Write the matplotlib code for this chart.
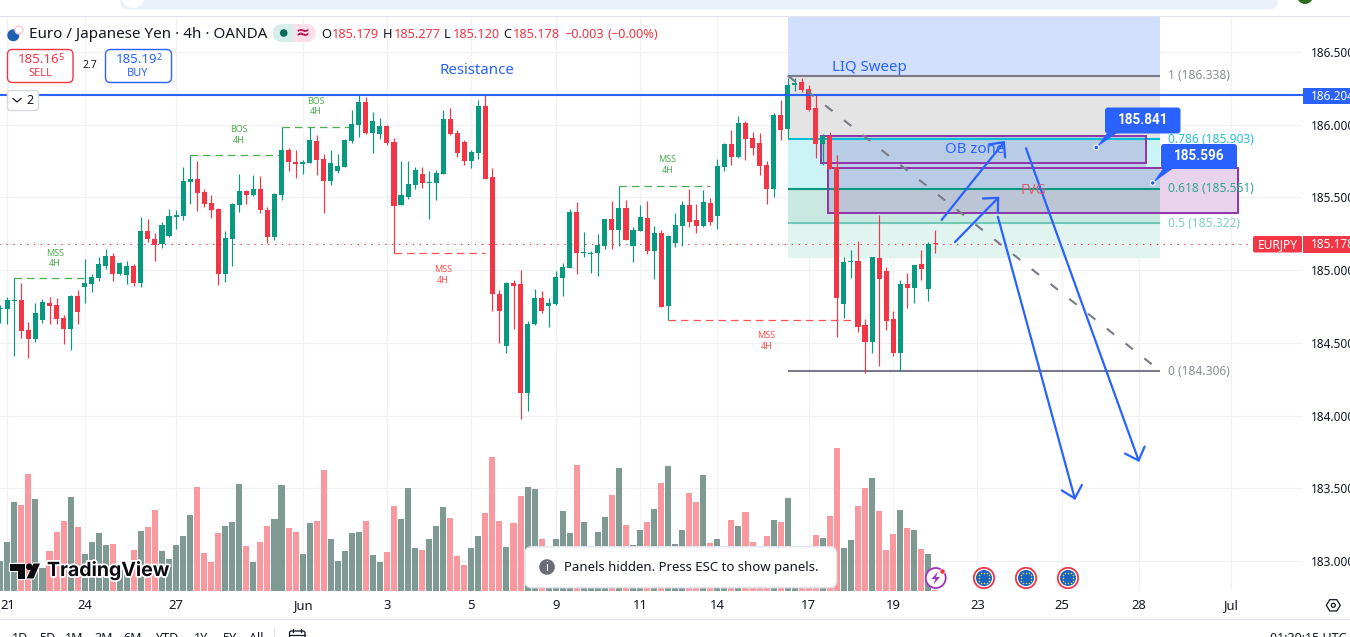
import matplotlib
matplotlib.use("Agg")
import matplotlib.pyplot as plt
import matplotlib.patheffects as pe
from matplotlib.patches import Rectangle, Circle, FancyBboxPatch, Polygon
import numpy as np

plt.rcParams['font.family'] = ['Noto Sans', 'DejaVu Sans']

# EUR/JPY 4h candles
opens = [184.732,184.735,184.787,184.794,184.588,184.528,184.657,184.771,184.757,184.670,
         184.597,184.819,184.886,184.906,184.948,185.030,185.097,184.975,184.968,185.028,
         184.913,185.269,185.214,185.182,185.237,185.367,185.374,185.608,185.627,185.537,
         185.462,185.418,184.975,185.214,185.448,185.544,185.517,185.558,185.413,185.230,
         185.517,185.826,185.737,185.732,185.737,185.888,185.764,185.613,185.682,185.709,
         185.888,185.998,186.156,185.943,185.936,185.991,185.881,185.448,185.503,185.585,
         185.661,185.599,185.599,185.661,186.039,185.942,185.881,185.750,185.807,186.128,
         185.640,184.835,184.477,184.911,184.904,184.154,184.629,184.807,184.752,184.766,
         184.945,185.014,185.399,185.117,185.110,185.117,185.165,185.351,185.275,185.426,
         185.165,185.268,185.358,185.131,185.255,184.752,185.186,185.303,185.447,185.344,
         185.303,185.461,185.371,185.709,185.867,185.777,186.011,185.908,185.874,185.722,
         185.557,186.066,185.968,186.275,186.294,186.246,186.115,185.867,185.922,185.707,
         184.767,185.055,185.062,184.622,184.505,185.083,184.994,184.663,184.429,184.904,
         184.877,185.042,184.870,185.179]
highs = [184.760,184.812,184.943,184.909,184.643,184.771,184.801,184.812,184.808,184.689,
         184.826,184.863,185.074,184.973,185.088,185.143,185.115,185.053,185.060,185.039,
         185.363,185.351,185.255,185.328,185.418,185.413,185.709,185.789,185.748,185.558,
         185.514,185.425,185.267,185.459,185.661,185.551,185.654,185.647,185.436,185.528,
         185.982,185.840,185.826,185.757,185.982,185.929,185.799,185.826,185.799,185.902,
         186.101,186.204,186.191,186.088,186.046,185.998,185.909,185.750,185.750,185.709,
         185.709,185.682,185.689,186.101,186.114,185.963,185.894,185.825,186.169,186.204,
         185.702,184.862,184.917,184.931,185.000,184.649,184.869,184.856,184.807,184.993,
         185.048,185.420,185.468,185.261,185.131,185.248,185.351,185.475,185.576,185.482,
         185.296,185.447,185.475,185.303,185.275,185.241,185.392,185.475,185.557,185.454,
         185.550,185.495,185.764,185.874,185.963,186.059,186.025,185.949,185.942,185.750,
         186.080,186.169,186.319,186.319,186.321,186.273,186.204,185.936,185.950,185.791,
         185.090,185.138,185.200,184.663,185.090,185.379,185.021,184.718,184.932,184.980,
         185.035,185.138,185.193,185.277]
lows = [184.634,184.629,184.411,184.533,184.397,184.505,184.638,184.629,184.629,184.494,
        184.452,184.629,184.776,184.851,184.927,185.010,184.927,184.968,184.906,184.893,
        184.886,185.195,185.065,185.154,185.227,185.280,185.345,185.455,185.409,185.436,
        185.361,184.897,184.920,185.028,185.402,185.455,185.510,185.395,185.189,185.207,
        185.482,185.682,185.634,185.661,185.737,185.654,185.395,185.585,185.666,185.709,
        185.872,185.916,185.936,185.806,185.902,185.861,185.115,185.448,185.489,185.558,
        185.565,185.352,185.482,185.661,185.929,185.777,185.722,185.702,185.764,185.626,
        184.718,184.498,184.429,184.594,183.975,184.030,184.622,184.704,184.608,184.759,
        184.821,185.014,184.972,185.089,184.979,184.959,185.144,185.144,185.165,185.206,
        185.055,185.268,185.110,184.938,184.745,184.656,185.158,185.165,185.296,185.255,
        185.296,185.310,185.282,185.681,185.722,185.770,185.757,185.791,185.653,185.454,
        185.502,185.894,185.906,186.234,186.225,186.094,185.771,185.725,185.695,184.540,
        184.670,184.945,184.574,184.292,184.429,184.340,184.588,184.409,184.306,184.739,
        184.773,184.932,184.787,185.120]
closes = [184.741,184.794,184.796,184.583,184.528,184.702,184.780,184.753,184.666,184.597,
          184.819,184.714,184.909,184.950,185.042,185.097,184.975,185.046,185.028,184.913,
          185.269,185.216,185.175,185.310,185.372,185.379,185.613,185.624,185.533,185.457,
          185.413,184.975,185.221,185.455,185.544,185.517,185.558,185.413,185.230,185.523,
          185.826,185.746,185.732,185.746,185.895,185.757,185.613,185.737,185.716,185.895,
          186.005,186.156,185.941,186.026,185.991,185.872,185.441,185.517,185.592,185.689,
          185.599,185.608,185.668,186.039,185.936,185.807,185.752,185.812,186.128,185.626,
          184.835,184.718,184.911,184.890,184.154,184.629,184.807,184.718,184.773,184.952,
          185.021,185.399,185.117,185.126,185.119,185.172,185.351,185.275,185.426,185.206,
          185.275,185.365,185.131,185.255,184.745,185.234,185.310,185.447,185.330,185.303,
          185.468,185.330,185.715,185.867,185.777,186.011,185.901,185.839,185.715,185.557,
          186.066,185.963,186.273,186.284,186.239,186.101,185.867,185.922,185.695,184.808,
          185.055,185.065,184.608,184.505,185.090,184.939,184.650,184.429,184.904,184.877,
          185.035,185.007,185.179,185.178]
volumes = [90,147,267,258,351,276,68,120,177,210,282,192,111,147,174,138,141,63,53,123,
           180,192,243,120,96,138,165,228,312,114,87,174,195,207,321,135,87,147,195,216,
           318,189,177,111,204,210,363,156,90,120,174,177,210,108,87,117,255,216,309,129,
           123,156,195,252,219,105,78,129,165,234,402,210,132,204,285,312,306,156,123,156,
           240,174,378,207,113,177,222,288,369,198,138,183,207,246,324,375,141,183,294,267,
           348,144,156,123,213,195,237,147,123,165,213,207,279,118,113,123,168,159,225,429,
           129,153,255,309,339,240,123,171,243,189,183,126,111,3]

# Date axis
date_bars = [1, 12, 25, 43, 55, 67, 79, 91, 102, 115, 127, 139, 151, 162, 175]
date_labels = ['21', '24', '27', 'Jun', '3', '5', '9', '11', '14', '17', '19', '23', '25', '28', 'Jul']
price_ticks = [183.0, 183.5, 184.0, 184.5, 185.0, 185.5, 186.0, 186.5]

# Fibonacci retracement drawn between two bars
fib_start, fib_end = 112, 165
fib_levels = [1, 0.786, 0.618, 0.5, 0]
fib_prices = [186.338, 185.903, 185.561, 185.322, 184.306]
fib_colors = ['#787B86', '#00BCD4', '#089981', '#73C9B7', '#787B86']
fib_text = ['#8A8D96', '#22C3D8', '#2CA58F', '#7FD0BE', '#8A8D96']
fib_floor = 185.083

resistance = 186.204
last_close = closes[-1]

# Market-structure breaks: first bar, last bar, price, colour
structure = [(27, 40, 185.789, '#4CAF50'), (40, 50, 185.982, '#4CAF50'),
             (2, 12, 184.943, '#4CAF50'), (88, 101, 185.576, '#4CAF50'),
             (56, 69, 185.115, '#FF5252'), (95, 122, 184.656, '#FF5252')]
structure_labels = [('BOS', 238.7, 128.5, '#4CAF50'), ('BOS', 315.7, 100, '#4CAF50'),
                    ('MSS', 55, 252, '#4CAF50'), ('MSS', 667.3, 158.7, '#4CAF50'),
                    ('MSS', 442.7, 268.5, '#FF5252'), ('MSS', 766.3, 334.7, '#FF5252')]

# Projected path arrows: tail bar, tail price, tip bar, tip price
arrows = [(133.9, 185.345, 142.9, 185.888), (135.8, 185.193, 142.1, 185.505),
          (141.9, 185.367, 152.9, 183.419), (145.9, 185.838, 162.0, 183.680)]

UP = '#089981'
DOWN = '#F23645'
VOL_UP = '#7F9A93'
VOL_DOWN = '#F9989F'
BLUE = '#2962FF'
PURPLE = '#8E35A8'
INK = '#131722'
GRID = '#F0F1F4'
RULE = '#E0E3EB'

W, H = 1350, 637
fig = plt.figure(figsize=(W / 100, H / 100), dpi=100, facecolor='white')
ax = fig.add_axes([0, (H - 591) / H, 1302 / W, (591 - 16) / H], zorder=1)
ax.set_xlim(-0.043, 185.16)
ax.set_ylim(182.793, 186.7476)
ax.patch.set_visible(False)
for s in ax.spines.values():
    s.set_visible(False)
ax.set_axisbelow(True)
ax.grid(True, color=GRID, lw=0.9)
ax.set_xticks(date_bars, date_labels)
ax.set_yticks(price_ticks, [f'{p:.3f}' for p in price_ticks])

bars = np.arange(len(opens))
o, h, l, c = map(np.array, (opens, highs, lows, closes))
rising = c >= o
colors = np.where(rising, UP, DOWN)

# Fibonacci bands and the sweep block above them
span = fib_end - fib_start
ax.add_patch(Rectangle((fib_start, fib_prices[0]), span, 187.0 - fib_prices[0], fc='#D2DFFD', ec='none', zorder=1))
band_fill = ['#E4E4E4', '#CCF3F5', '#C9E8E0', '#E1F4F0']
band_edges = fib_prices[:4] + [fib_floor]
for k, fill in enumerate(band_fill):
    ax.add_patch(Rectangle((fib_start, band_edges[k + 1]), span, band_edges[k] - band_edges[k + 1],
                           fc=fill, ec='none', zorder=1.1))

# Order block and fair value gap
ob_left, ob_right, ob_top, ob_bottom = 116.8, 163.0, 185.922, 185.737
fvg_left, fvg_right, fvg_top, fvg_bottom = 117.8, 176.0, 185.704, 185.393
ax.add_patch(Rectangle((fib_end, fvg_bottom), fvg_right - fib_end, fvg_top - fvg_bottom, fc='#E8D2EC', ec='none', zorder=1.2))
ax.add_patch(Rectangle((fvg_left, 185.561), fib_end - fvg_left, fvg_top - 185.561, fc='#B9CCE6', ec='none', zorder=1.2))
ax.add_patch(Rectangle((fvg_left, fvg_bottom), fib_end - fvg_left, 185.561 - fvg_bottom, fc='#BBC5D6', ec='none', zorder=1.2))
ax.add_patch(Rectangle((ob_left, ob_bottom), ob_right - ob_left, ob_top - ob_bottom, fc='#B9CCE6', ec='none', zorder=1.2))
ax.add_patch(Rectangle((fvg_left, ob_bottom - 0.04), ob_right - fvg_left, 0.04, fc='#BDD0E8', ec='none', zorder=1.2))

for price, col in zip(fib_prices, fib_colors):
    ax.hlines(price, fib_start, fib_end, color=col, lw=1.5, zorder=1.6)
ax.hlines(last_close, -1, 178.2, color=DOWN, lw=0.8, linestyles=[(0, (1.2, 5))], zorder=1.7)

for left, right, top, bottom in ((ob_left, ob_right, ob_top, ob_bottom), (fvg_left, fvg_right, fvg_top, fvg_bottom)):
    ax.add_patch(Rectangle((left, bottom), right - left, top - bottom, fc='none', ec=PURPLE, lw=1.4, zorder=2))

for b0, b1, price, col in structure:
    ax.hlines(price, b0, b1, color=col, lw=0.9, linestyles=[(0, (6, 4))], zorder=2.2)

# Candles
ax.vlines(bars, l, h, colors=colors, lw=0.85, zorder=3)
ax.bar(bars, np.maximum(np.abs(c - o), 0.009), bottom=np.minimum(o, c), width=0.72, color=colors, lw=0, zorder=3.1)

# Drawing tools above the candles
ax.hlines(resistance, -1, 186, color=BLUE, lw=1.5, zorder=4, clip_on=False)
ax.plot([fib_start, fib_end], [fib_prices[0], fib_prices[-1]], color='#787B86', lw=1.5,
        linestyle=(0, (4.5, 7)), zorder=4)
for x0, y0, x1, y1 in arrows:
    ax.annotate('', xy=(x1, y1), xytext=(x0, y0), zorder=5,
                arrowprops=dict(arrowstyle='->,head_length=8,head_width=7.5', mutation_scale=1,
                                color=BLUE, lw=1.6, shrinkA=0, shrinkB=0))

# Volume pane shares the date axis
vol = ax.twinx()
vol.set_ylim(0, 575 * 3)
vol.patch.set_visible(False)
vol.axis('off')
vol.set_zorder(2)
vol.bar(bars, volumes, width=0.86, color=np.where(rising, VOL_UP, VOL_DOWN), lw=0)

# Price scale sits on the right of the main pane
ax.yaxis.tick_right()
ax.tick_params(axis='both', length=0, colors=INK)
ax.tick_params(axis='x', pad=5.8, labelsize=9.4)
ax.tick_params(axis='y', pad=6.5, labelsize=8.5)

# Screen furniture in pixel units
ui = fig.add_axes([0, 0, 1, 1], zorder=5)
ui.set_xlim(0, W)
ui.set_ylim(H, 0)
ui.axis('off')


def label(x, y, s, size=13, color=INK, ha='center', va='center', weight='normal', **kw):
    return ui.text(x, y + 1, s, fontsize=size * 0.72, color=color, ha=ha, va=va, fontweight=weight, **kw)


def box(x0, y0, x1, y1, r=3, fc='white', ec='none', lw=1, z=2):
    ui.add_patch(FancyBboxPatch((x0 + r, y0 + r), x1 - x0 - 2 * r, y1 - y0 - 2 * r,
                                boxstyle=f'round,pad={r},rounding_size={r}', fc=fc, ec=ec, lw=lw, zorder=z))


# Browser strip along the top
ui.add_patch(Rectangle((0, 15.5), W, 1, fc=RULE, ec='none'))
box(120, -20, 1278, 9.5, r=9, fc='#EBF0FA')
ui.add_patch(Circle((133, -4), 12, fc='white', ec='none', zorder=3))
ui.add_patch(Circle((1305, -4), 8, fc='#2E6B1F', ec='none', zorder=3))

# Instrument title and last-bar values
ui.add_patch(Circle((13.3, 35.3), 6, fc='#1F5FB4', ec='none'))
ui.add_patch(Circle((19, 30), 4, fc='white', ec='#F7C6CB', lw=1))
label(29, 33, 'Euro / Japanese Yen · 4h · OANDA', size=15.2, ha='left')
ui.add_patch(FancyBboxPatch((280, 31), 26, 4, boxstyle='round,pad=7,rounding_size=9', fc='#D5EEE8', ec='none'))
ui.add_patch(Rectangle((293, 24), 14, 18, fc='#FBE0EA', ec='none', zorder=1.1))
ui.add_patch(Circle((307, 33), 9, fc='#FBE0EA', ec='none', zorder=1.05))
ui.add_patch(Circle((283.7, 33), 3.8, fc='#0A6B5A', ec='none', zorder=2))
label(302, 32, '≈', size=17, color='#BA1B5C', family=['DejaVu Sans'], weight='bold', zorder=2)
for x, s, col in [(321.7, 'O', INK), (332, '185.179', DOWN), (383, 'H', INK), (393.5, '185.277', DOWN),
                  (444, 'L', INK), (452.5, '185.120', DOWN), (503.7, 'C', INK), (513, '185.178', DOWN),
                  (564.5, '−0.003', DOWN), (607, '(−0.00%)', DOWN)]:
    label(x, 33, s, size=12.8, color=col, ha='left')

# Sell and buy buttons
box(7.5, 49.5, 73, 82.5, r=5, ec=DOWN, lw=1)
label(18, 58.2, '185.16', size=13.2, color=DOWN, ha='left')
label(58.5, 56.5, '5', size=9, color=DOWN, ha='left')
label(40, 72.5, 'SELL', size=11, color=DOWN)
box(105.5, 49.5, 171.5, 82.5, r=5, ec=BLUE, lw=1)
label(116, 58.2, '185.19', size=13.2, color=BLUE, ha='left')
label(156.5, 56.5, '2', size=9, color=BLUE, ha='left')
label(138, 72.5, 'BUY', size=11, color=BLUE)
label(89.5, 65, '2.7', size=10.5)
box(7.5, 90.5, 38.5, 110.5, r=3, ec='#D6D8DE', lw=1)
ui.plot([13, 17, 21], [98.5, 102, 98.5], color=INK, lw=0.9)
label(30, 100, '2', size=12.5)

# Chart notes
label(476.5, 69.5, 'Resistance', size=15, color=BLUE)
label(869, 66.5, 'LIQ Sweep', size=15, color=BLUE)
label(975, 148.5, 'OB zone', size=15, color=BLUE)
label(1033, 190, 'FVG', size=14, color='#D9606A')
for s, x, y, col in structure_labels:
    label(x, y, s, size=9, color=col)
    label(x, y + 11, '4H', size=9, color=col)
for x, y, s, col in [(1168, 74.5, '1 (186.338)', fib_text[0]), (1168, 138.5, '0.786 (185.903)', fib_text[1]),
                     (1168, 187.5, '0.618 (185.561)', fib_text[2]), (1168, 222.5, '0.5 (185.322)', fib_text[3]),
                     (1168, 370.5, '0 (184.306)', fib_text[4])]:
    label(x, y, s, size=12, color=col, ha='left')

# Price callouts
for (x0, y0, x1, y1), tail, tip, s in [((1105, 107.5, 1180.5, 133.5), [(1107, 133), (1117, 133)], (1096.3, 147.5), '185.841'),
                                       ((1161, 144, 1237, 169), [(1163, 168.5), (1173, 168.5)], (1152.7, 183), '185.596')]:
    box(x0, y0, x1, y1, r=3, fc=BLUE, z=3)
    ui.add_patch(Polygon(tail + [tip], fc=BLUE, ec='none', zorder=3))
    ui.add_patch(Circle(tip, 2.4, fc=BLUE, ec='white', lw=0.8, zorder=3.1))
    label((x0 + x1) / 2, (y0 + y1) / 2 - 1, s, size=13.5, color='white', weight='bold', family=['Roboto'], zorder=3.2)

# Price scale tags
ui.add_patch(Rectangle((1303, 88), 47, 16, fc=BLUE, ec='none'))
label(1311, 95.5, f'{resistance:.3f}', size=11.8, color='white', ha='left')
box(1253, 236, 1302, 252.5, r=2, fc=DOWN)
label(1277.5, 243.5, 'EURJPY', size=12, color='white')
ui.add_patch(Rectangle((1303, 236), 47, 16.5, fc=DOWN, ec='none'))
label(1311, 243.5, f'{last_close:.3f}', size=11.8, color='white', ha='left')

# Wordmark
for pts in ([(10, 563.5), (25, 563.5), (25, 578.5), (17.5, 578.5), (17.5, 570.5), (10, 570.5)],
            [(33.5, 563.5), (40, 563.5), (33.5, 578.5), (26.5, 578.5)]):
    ui.add_patch(Polygon(pts, fc='#0B0B0F', ec='white', lw=1.6, joinstyle='round', zorder=3))
    ui.add_patch(Polygon(pts, fc='#0B0B0F', ec='none', zorder=3.1))
ui.add_patch(Circle((29.3, 566.8), 3.3, fc='#0B0B0F', ec='none', zorder=3.1))
label(47, 569.5, 'TradingView', size=19.5, color='#0B0B0F', ha='left', weight='bold', family=['Inter'],
      path_effects=[pe.withStroke(linewidth=2.6, foreground='white')], zorder=3)

# Notice
box(525, 546.7, 836.7, 587.7, r=7, ec=RULE, lw=1, z=3)
ui.add_patch(Circle((547, 567), 7.8, fc='#6A6D78', ec='none', zorder=3.1))
label(547, 566.3, 'i', size=12, color='white', weight='bold', zorder=3.2)
label(564, 566.5, 'Panels hidden. Press ESC to show panels.', size=13.2, ha='left', zorder=3.2)

# Economic event markers
ui.add_patch(Circle((935.7, 578), 10, fc='white', ec='#A030C0', lw=1.3, zorder=3))
ui.add_patch(Polygon([(938, 571.5), (931.5, 579), (935.5, 579), (933.5, 584.5), (940, 577), (936, 577)],
                     fc='#A030C0', ec='none', zorder=3.1))
ui.add_patch(Circle((942.5, 571.5), 2.6, fc=DOWN, ec='white', lw=0.4, zorder=3.2))
for cx in (984, 1026, 1068):
    ui.add_patch(Circle((cx, 578), 10.2, fc='white', ec=DOWN, lw=1.3, zorder=3))
    ui.add_patch(Circle((cx, 578), 8, fc='#1565C0', ec='none', zorder=3.1))
    ang = np.arange(12) * np.pi / 6
    ui.scatter(cx + 5.3 * np.cos(ang), 578 + 5.3 * np.sin(ang), s=1.3, color='#F2C94C', lw=0, zorder=3.2)

# Bottom toolbar, cut by the window edge
ui.add_patch(Rectangle((0, 619), W, 1, fc=RULE, ec='none'))
for x, s in [(20, '1D'), (47, '5D'), (74, '1M'), (104, '3M'), (133, '6M'), (168, 'YTD'), (201, '1Y'), (229, '5Y'), (256, 'All')]:
    label(x, 637.5, s, size=12.5, clip_on=False)
ui.add_patch(Rectangle((274, 628), 1, 9, fc=RULE, ec='none'))
box(289.5, 631, 305, 645, r=2, ec=INK, lw=0.9)
ui.plot([293, 293], [629, 632], color=INK, lw=0.9)
ui.plot([301, 301], [629, 632], color=INK, lw=0.9)
ui.plot([290, 305], [635, 635], color=INK, lw=0.9)
label(1270, 637.5, '01:39:15 UTC', size=12.5, ha='left')

# Settings hexagon
hex_ang = np.arange(6) * np.pi / 3
ui.add_patch(Polygon(np.column_stack([1333.3 + 7 * np.cos(hex_ang), 605.3 + 6.5 * np.sin(hex_ang)]),
                     fc='none', ec=INK, lw=0.9))
ui.add_patch(Circle((1333.3, 605.3), 2, fc='none', ec=INK, lw=0.9))

fig.savefig('out.png', dpi=100, facecolor='white')
